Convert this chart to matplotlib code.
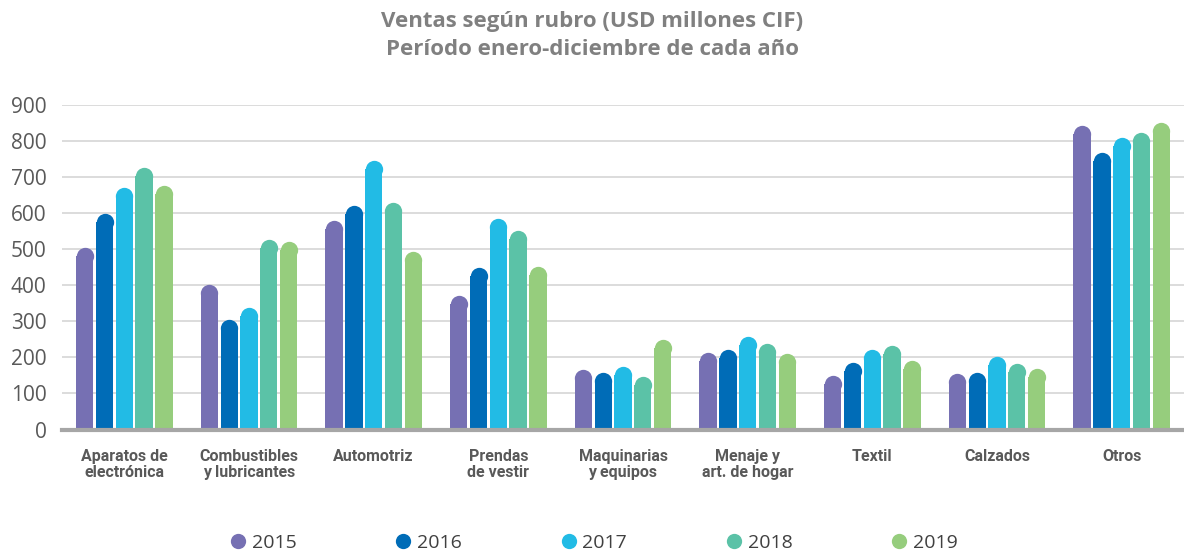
import matplotlib
matplotlib.use("Agg")
import matplotlib.pyplot as plt
from matplotlib.lines import Line2D
import numpy as np

categories = ["Aparatos de\nelectrónica", "Combustibles\ny lubricantes", "Automotriz",
              "Prendas\nde vestir", "Maquinarias\ny equipos", "Menaje y\nart. de hogar",
              "Textil", "Calzados", "Otros"]
years = ["2015", "2016", "2017", "2018", "2019"]
v2015 = [505, 403, 582, 372, 167, 214, 151, 156, 845]
v2016 = [601, 307, 623, 449, 160, 223, 186, 160, 769]
v2017 = [672, 339, 748, 586, 176, 260, 223, 202, 811]
v2018 = [727, 527, 632, 553, 148, 238, 233, 185, 825]
v2019 = [677, 522, 495, 454, 249, 212, 192, 171, 853]
series = [v2015, v2016, v2017, v2018, v2019]
colors = ["#7670B3", "#006CB7", "#22BBE5", "#5BC2A7", "#96CD7D"]
yticks = [0, 100, 200, 300, 400, 500, 600, 700, 800, 900]

W, H, DPI = 11.84, 5.52, 100
fig = plt.figure(figsize=(W, H), dpi=DPI)
ax_left, ax_right = 62 / 1184, 1.0
ax_bottom = (552 - 429.5) / 552
ax_top = (552 - 105.3) / 552
ax = fig.add_axes([ax_left, ax_bottom, ax_right - ax_left, ax_top - ax_bottom])

n = len(categories)
ax.set_xlim(-0.5, n - 0.5)
ax.set_ylim(0, 900)

pitch = 0.159
bw = 0.139
ax_w_px = (ax_right - ax_left) * W * DPI
ax_h_px = (ax_top - ax_bottom) * H * DPI
px_per_x = ax_w_px / n
px_per_y = ax_h_px / 900
r_px = bw * px_per_x / 2
r_data = r_px / px_per_y
diam_pt = 2 * r_px * 72 / DPI

x = np.arange(n)
for j, (vals, c) in enumerate(zip(series, colors)):
    xs = x + (j - 2) * pitch
    vals = np.array(vals, dtype=float)
    ax.bar(xs, vals - r_data, width=bw, color=c, linewidth=0, zorder=3)
    ax.scatter(xs, vals - r_data, s=diam_pt ** 2, color=c, marker="o",
               linewidths=0, zorder=3, clip_on=False)

ax.set_yticks(yticks)
ax.set_yticklabels([str(t) for t in yticks], fontsize=15, color="#595959",
                   fontfamily="Open Sans")
ax.set_xticks(x)
ax.set_xticklabels(categories, fontsize=11.5, fontweight="bold", color="#595959",
                   fontfamily="Roboto", linespacing=1.1)
ax.tick_params(axis="both", length=0)
ax.tick_params(axis="x", pad=14)
ax.tick_params(axis="y", pad=11)
for t in ax.get_yticklabels():
    t.set_horizontalalignment("right")

for s in ["top", "right", "left"]:
    ax.spines[s].set_visible(False)
ax.spines["bottom"].set_color("#a6a6a6")
ax.spines["bottom"].set_linewidth(3)
ax.spines["bottom"].set_zorder(4)
ax.yaxis.grid(True, color="#d9d9d9", linewidth=1.3, zorder=0)
ax.set_axisbelow(True)

fig.text(0.5, 1 - 22 / 552, "Ventas según rubro (USD millones CIF)", ha="center", va="center",
         fontsize=16, fontweight="bold", color="#808080", fontfamily="Open Sans")
fig.text(0.5, 1 - 49 / 552, "Período enero-diciembre de cada año", ha="center", va="center",
         fontsize=16, fontweight="bold", color="#808080", fontfamily="Open Sans")

handles = [Line2D([0], [0], marker="o", linestyle="", markersize=11,
                  markerfacecolor=c, markeredgewidth=0) for c in colors]
leg = fig.legend(handles, years, loc="center", bbox_to_anchor=(0.5, 1 - 543 / 552),
                 ncol=5, frameon=False, fontsize=14, handletextpad=0.1,
                 columnspacing=4.9, handlelength=1.2)
for t in leg.get_texts():
    t.set_color("#404040")
    t.set_fontfamily("Open Sans")

fig.savefig("out.png", dpi=DPI)
